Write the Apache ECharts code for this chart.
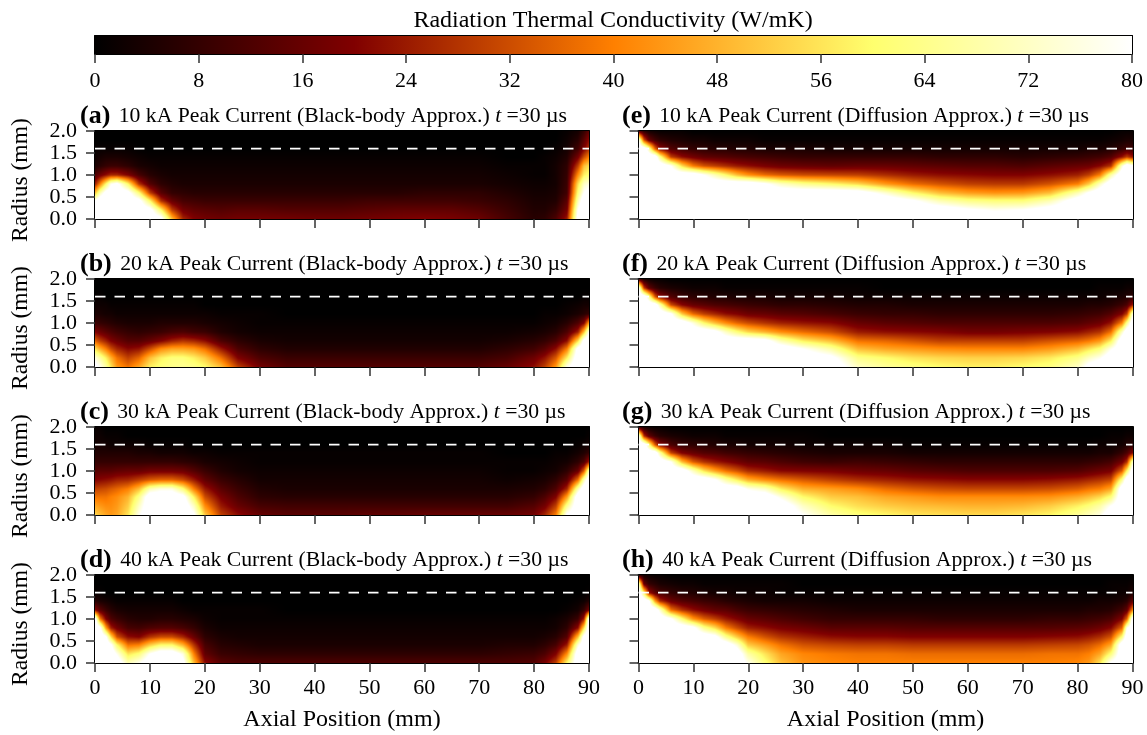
<!DOCTYPE html>
<html><head><meta charset="utf-8">
<style>html,body{margin:0;padding:0;background:#fff}#c{width:1147px;height:735px}</style>
<script src="https://cdn.jsdelivr.net/npm/echarts@6/dist/echarts.min.js"></script>
</head><body><div id="c"></div>
<script>
// Radiation thermal conductivity (W/mK), rows from r=2.0 (top) to r=0.0 (bottom)
const axialPositions = [0,1,2,3,4,6,8,10, 12,14,16,18,20,23,26,30, 35,40,45,50,55,60,65,70, 75,80,82,84,86,88,89,90];
const radiusStops = [2.0,1.8,1.6,1.4,1.2,1.0,0.8,0.6,0.4,0.2,0.0];
const panelA = [
[0,0,0,0,0,0,0,0, 0,0,0,0,0,0,0,0, 0,0,0,0,0,0,0,0, 0,0,0,0,1,3,8,15],
[0,0,0,0,0,0,0,0, 0,0,0,0,0,0,0,0, 0,0,0,0,0,0,0,0, 0,0,0,0,2,6,14,22],
[1,1,1,1,1,1,0,0, 0,0,0,0,0,0,0,0, 0,0,0,0,0,0,0,0, 0,0,0,1,3,10,20,28],
[2,3,4,4,4,3,2,1, 1,1,1,1,1,1,1,1, 1,1,1,1,1,1,1,1, 0,0,1,2,5,18,32,40],
[4,6,8,9,9,7,4,3, 2,2,2,2,2,2,2,2, 2,2,2,2,2,2,2,2, 1,1,1,3,7,30,50,55],
[12,17,22,26,26,20,11,6, 4,3,3,3,3,3,3,3, 3,3,3,3,3,3,3,3, 2,1,1,3,8,42,58,62],
[24,40,60,78,84,60,28,13, 7,5,4,4,4,4,4,4, 4,4,4,4,4,4,4,4, 3,2,2,3,9,55,72,76],
[50,70,85,90,90,85,62,30, 14,8,7,6,6,6,6,6, 6,6,6,6,6,7,7,7, 5,3,3,4,10,62,80,85],
[80,90,90,90,90,90,85,60, 28,16,11,10,9,9,9,9, 9,9,9,10,10,10,10,9, 7,4,4,5,14,70,90,90],
[90,90,90,90,90,90,90,85, 60,30,18,15,14,13,14,14, 13,13,13,14,15,15,15,13, 9,5,5,8,18,80,90,90],
[90,90,90,90,90,90,90,90, 85,50,26,20,18,17,18,18, 18,17,17,18,19,20,19,17, 11,6,7,12,24,85,90,90]];
const panelB = [
[0,0,0,0,0,0,0,0, 0,0,0,0,0,0,0,0, 0,0,0,0,0,0,0,0, 0,0,0,0,0,0,0,0],
[0,0,0,0,0,0,0,0, 0,0,0,0,0,0,0,0, 0,0,0,0,0,0,0,0, 0,0,0,0,0,0,0,0],
[1,1,0,0,0,0,0,0, 0,0,0,0,0,0,0,0, 0,0,0,0,0,0,0,0, 0,0,0,0,0,0,1,1],
[2,2,2,1,1,1,1,1, 1,1,1,1,0,0,0,0, 0,0,0,0,0,0,0,0, 0,0,0,0,1,2,3,3],
[4,4,3,3,2,2,2,2, 2,2,2,2,2,1,1,1, 0,0,0,0,0,0,0,0, 0,0,1,1,2,4,6,8],
[9,8,7,6,5,4,4,4, 5,5,5,5,4,3,2,1, 1,1,1,1,1,1,1,1, 1,1,2,3,6,12,20,45],
[20,17,14,12,10,8,7,8, 9,11,12,10,9,5,3,2, 2,2,2,2,2,2,2,2, 2,3,4,6,12,25,50,80],
[36,30,25,20,17,13,13,16, 20,25,28,26,22,12,7,4, 3,3,3,3,3,3,3,3, 4,6,8,12,22,55,85,90],
[56,48,40,32,26,21,23,32, 42,46,46,44,38,24,12,7, 5,5,5,5,5,5,5,5, 7,10,14,22,40,85,90,90],
[76,68,58,48,38,30,36,50, 58,62,62,58,52,38,20,12, 9,9,9,9,9,9,9,9, 11,17,23,34,58,90,90,90],
[85,78,68,56,44,38,46,58, 62,64,65,64,60,50,30,18, 13,13,13,13,13,13,13,13, 16,22,30,44,78,90,90,90]];
const panelC = [
[1,1,0,0,0,0,0,0, 0,0,0,0,0,0,0,0, 0,0,0,0,0,0,0,0, 0,0,0,0,0,0,0,0],
[2,2,1,1,1,0,0,0, 0,0,0,0,0,0,0,0, 0,0,0,0,0,0,0,0, 0,0,0,0,0,0,0,1],
[3,3,3,2,2,2,2,1, 1,1,1,0,0,0,0,0, 0,0,0,0,0,0,0,0, 0,0,0,0,0,1,2,3],
[5,5,5,5,5,5,4,4, 3,3,3,2,2,1,1,1, 1,1,1,1,1,1,1,1, 0,0,0,1,1,3,5,8],
[8,8,8,8,8,8,8,8, 8,8,7,6,4,3,2,1, 1,1,1,1,1,1,1,1, 1,1,1,2,3,7,12,25],
[13,14,14,14,15,16,16,18, 18,18,17,13,9,5,3,2, 2,2,2,2,2,2,2,2, 1,1,2,3,7,16,35,72],
[20,21,22,23,25,26,30,34, 36,36,32,24,15,9,6,3, 3,3,3,3,3,3,3,3, 2,3,4,7,14,38,70,90],
[30,31,32,34,36,40,50,70, 76,76,62,40,24,14,9,5, 4,4,4,4,4,4,4,4, 4,5,7,12,26,70,90,90],
[38,38,38,40,42,48,64,90, 90,90,85,58,32,19,12,7, 6,6,6,6,6,6,6,6, 6,8,12,20,45,90,90,90],
[46,44,42,42,44,52,72,90, 90,90,90,72,42,24,16,11, 10,10,10,10,10,10,10,10, 10,13,18,30,65,90,90,90],
[54,50,46,44,46,56,78,90, 90,90,90,82,52,30,22,16, 14,14,14,15,15,16,16,16, 16,18,26,40,82,90,90,90]];
const panelD = [
[0,0,0,0,0,0,0,0, 0,0,0,0,0,0,0,0, 0,0,0,0,0,0,0,0, 0,0,0,0,0,0,0,0],
[0,0,0,0,0,0,0,0, 0,0,0,0,0,0,0,0, 0,0,0,0,0,0,0,0, 0,0,0,0,0,0,0,0],
[1,1,0,0,0,0,0,0, 0,0,0,0,0,0,0,0, 0,0,0,0,0,0,0,0, 0,0,0,0,0,0,0,1],
[6,4,3,2,1,1,1,1, 1,1,0,0,0,0,0,0, 0,0,0,0,0,0,0,0, 0,0,0,0,0,1,2,5],
[22,14,9,6,4,3,3,3, 3,3,2,1,1,1,1,1, 0,0,0,0,0,0,0,0, 0,0,0,0,1,3,8,18],
[90,40,20,12,9,6,5,5, 6,6,5,4,2,1,1,1, 1,1,1,1,1,1,1,1, 1,1,1,2,4,9,25,85],
[90,85,45,25,18,11,10,12, 13,13,11,8,4,2,2,2, 2,2,2,2,2,2,2,2, 2,2,2,3,7,22,55,90],
[90,90,82,55,33,22,20,28, 32,32,26,16,7,4,3,3, 3,3,3,3,3,3,3,3, 3,3,4,6,13,50,85,90],
[90,90,90,82,60,38,40,52, 60,60,48,28,11,6,5,4, 4,4,4,4,4,4,4,4, 5,5,7,11,24,75,90,90],
[90,90,90,90,78,56,62,80, 90,90,76,40,15,9,8,7, 7,7,7,7,7,7,7,7, 8,9,12,20,42,90,90,90],
[90,90,90,90,90,70,78,90, 90,90,85,50,22,14,12,12, 12,12,12,12,12,12,12,12, 12,13,19,30,60,90,90,90]];
const panelE = [
[12,6,3,2,1,1,1,0, 0,0,0,0,0,0,0,0, 0,0,0,0,0,0,0,0, 0,0,0,0,0,1,1,1],
[78,33,16,10,7,5,4,3, 3,2,2,2,2,1,1,1, 1,1,1,1,1,1,1,1, 1,1,1,1,2,3,4,4],
[90,90,70,37,22,13,10,8, 7,6,6,5,5,4,4,4, 3,3,3,3,3,3,3,3, 3,3,4,4,5,8,10,9],
[90,90,90,90,65,30,22,18, 15,14,13,12,11,10,9,8, 8,8,8,8,7,7,7,6, 7,8,9,10,13,23,30,23],
[90,90,90,90,90,80,55,40, 33,30,27,24,22,19,17,16, 15,16,16,15,14,13,13,12, 14,16,17,21,28,74,90,82],
[90,90,90,90,90,90,90,90, 80,70,60,50,43,37,34,32, 31,30,27,24,22,21,20,20, 22,25,30,40,68,90,90,90],
[90,90,90,90,90,90,90,90, 90,90,90,90,90,82,72,65, 60,54,44,37,33,30,29,29, 33,40,52,72,90,90,90,90],
[90,90,90,90,90,90,90,90, 90,90,90,90,90,90,90,90, 90,88,74,60,50,45,43,44, 50,70,82,90,90,90,90,90],
[90,90,90,90,90,90,90,90, 90,90,90,90,90,90,90,90, 90,90,90,82,70,64,62,62, 70,88,90,90,90,90,90,90],
[90,90,90,90,90,90,90,90, 90,90,90,90,90,90,90,90, 90,90,90,90,88,82,78,80, 86,90,90,90,90,90,90,90],
[90,90,90,90,90,90,90,90, 90,90,90,90,90,90,90,90, 90,90,90,90,90,90,90,90, 90,90,90,90,90,90,90,90]];
const panelF = [
[10,4,2,1,1,0,0,0, 0,0,0,0,0,0,0,0, 0,0,0,0,0,0,0,0, 0,0,0,0,0,0,0,0],
[80,30,15,9,6,4,3,2, 2,2,1,1,1,1,1,1, 1,1,0,0,0,0,0,0, 0,0,0,1,1,1,2,2],
[90,90,68,35,22,13,9,7, 6,5,5,4,4,4,3,3, 3,2,2,2,2,2,2,2, 2,2,2,2,3,4,5,7],
[90,90,90,90,70,32,21,16, 14,12,11,10,9,8,7,7, 6,5,5,4,4,4,4,4, 4,4,5,5,6,9,12,25],
[90,90,90,90,90,82,52,37, 30,26,22,20,17,16,14,13, 11,9,8,8,7,7,7,7, 7,8,9,10,13,20,30,78],
[90,90,90,90,90,90,90,76, 60,50,42,36,32,28,25,23, 21,16,14,13,12,12,12,12, 12,13,15,17,23,40,65,90],
[90,90,90,90,90,90,90,90, 90,85,72,62,54,48,42,37, 32,24,22,21,20,18,18,19, 20,22,25,28,38,72,90,90],
[90,90,90,90,90,90,90,90, 90,90,90,90,90,86,70,58, 50,38,36,33,30,30,30,30, 33,36,39,44,58,90,90,90],
[90,90,90,90,90,90,90,90, 90,90,90,90,90,90,90,80, 68,50,46,44,42,41,41,41, 44,50,56,62,78,90,90,90],
[90,90,90,90,90,90,90,90, 90,90,90,90,90,90,90,90, 84,64,60,56,54,53,53,54, 57,64,72,78,90,90,90,90],
[90,90,90,90,90,90,90,90, 90,90,90,90,90,90,90,90, 90,72,66,63,60,58,58,60, 63,72,85,90,90,90,90,90]];
const panelG = [
[8,4,2,1,1,0,0,0, 0,0,0,0,0,0,0,0, 0,0,0,0,0,0,0,0, 0,0,0,0,0,0,0,0],
[78,28,15,9,6,4,3,2, 2,2,1,1,1,1,1,1, 0,0,0,0,0,0,0,0, 0,0,0,0,1,1,2,2],
[90,90,65,35,21,12,8,7, 6,5,4,4,3,3,3,2, 2,2,2,1,1,1,1,1, 1,1,1,2,2,3,5,6],
[90,90,90,90,68,31,20,16, 13,12,10,9,8,7,6,5, 4,4,4,3,3,3,3,3, 3,3,3,4,4,8,12,22],
[90,90,90,90,90,80,50,35, 28,24,21,18,15,14,12,10, 9,10,9,8,7,7,7,7, 7,7,8,9,11,18,28,75],
[90,90,90,90,90,90,90,72, 56,46,38,33,27,24,21,20, 19,17,16,14,13,12,12,12, 12,13,15,17,19,35,60,90],
[90,90,90,90,90,90,90,90, 90,82,68,58,48,42,38,34, 30,27,25,23,22,21,21,21, 22,24,26,28,31,65,90,90],
[90,90,90,90,90,90,90,90, 90,90,90,90,78,72,58,48, 45,42,37,34,32,31,31,31, 32,35,38,40,46,90,90,90],
[90,90,90,90,90,90,90,90, 90,90,90,90,90,90,76,60, 52,50,46,44,42,42,42,42, 43,47,50,54,62,90,90,90],
[90,90,90,90,90,90,90,90, 90,90,90,90,90,90,90,72, 60,55,52,50,49,48,48,49, 52,58,62,68,80,90,90,90],
[90,90,90,90,90,90,90,90, 90,90,90,90,90,90,90,80, 68,62,59,56,55,54,54,56, 59,66,71,76,90,90,90,90]];
const panelH = [
[6,3,2,1,1,0,0,0, 0,0,0,0,0,0,0,0, 0,0,0,0,0,0,0,0, 0,0,0,0,0,0,0,0],
[70,16,8,6,4,3,2,2, 1,1,1,1,1,1,1,0, 0,0,0,0,0,0,0,0, 0,0,0,0,1,1,1,2],
[90,60,24,15,11,8,6,5, 4,3,3,2,2,2,1,1, 1,1,1,1,1,1,1,1, 1,1,1,1,1,2,2,5],
[90,90,82,45,27,17,13,11, 9,8,6,5,4,3,3,3, 2,2,2,2,2,2,2,2, 2,2,2,3,3,4,6,15],
[90,90,90,90,74,38,28,22, 18,15,14,11,9,8,7,6, 5,4,4,4,4,4,4,4, 4,4,5,5,6,10,15,42],
[90,90,90,90,90,82,62,44, 35,30,24,20,16,14,12,10, 8,8,8,8,7,7,7,7, 8,8,9,10,12,20,36,90],
[90,90,90,90,90,90,90,85, 65,55,40,32,25,22,19,17, 14,14,14,13,13,13,13,13, 13,14,15,17,21,36,78,90],
[90,90,90,90,90,90,90,90, 90,85,65,52,40,33,28,25, 22,21,21,20,20,20,20,20, 21,22,24,27,33,62,90,90],
[90,90,90,90,90,90,90,90, 90,90,90,75,52,45,38,33, 31,30,30,29,29,29,29,29, 30,31,33,37,46,90,90,90],
[90,90,90,90,90,90,90,90, 90,90,90,90,68,56,46,41, 39,38,38,37,37,37,37,37, 38,38,40,46,62,90,90,90],
[90,90,90,90,90,90,90,90, 90,90,90,90,78,62,50,43, 41,40,40,40,40,40,40,40, 40,41,44,56,82,90,90,90]];
const panelTags = ['(a)','(b)','(c)','(d)','(e)','(f)','(g)','(h)'];
const peakCurrents = ['10','20','30','40','10','20','30','40'];
const approximations = ['Black-body','Black-body','Black-body','Black-body','Diffusion','Diffusion','Diffusion','Diffusion'];
const colormapValues = [0,20,40,60,80];
const colormapColors = [[0,0,0],[128,0,0],[255,128,0],[255,255,110],[255,255,255]];
const guideRadius = 1.6;

const panels = [panelA,panelB,panelC,panelD,panelE,panelF,panelG,panelH];
const FONT = '"Liberation Serif","Times New Roman",serif';
const LABEL = 22;

function rgbOf(v){
  v = Math.max(0, Math.min(80, v));
  for (let i = 1; i < colormapValues.length; i++) {
    if (v <= colormapValues[i]) {
      const t = (v - colormapValues[i-1]) / (colormapValues[i] - colormapValues[i-1]);
      const a = colormapColors[i-1], b = colormapColors[i];
      return a.map((c,k)=>Math.round(c+(b[k]-c)*t));
    }
  }
  return [255,255,255];
}
const colorOf = v => 'rgb(' + rgbOf(v).join(',') + ')';
// one cell of the field: its four corner values are shaded across its own rectangle
function renderCell(params, api){
  const p0 = api.coord([api.value(0), api.value(3)]);
  const p1 = api.coord([api.value(1), api.value(2)]);
  const x = Math.round(p0[0]), y = Math.round(p0[1]);
  const w = Math.max(1, Math.round(p1[0])-x), h = Math.max(1, Math.round(p1[1])-y);
  const tl = api.value(4), tr = api.value(5), bl = api.value(6), br = api.value(7);
  const cv = document.createElement('canvas'); cv.width = w; cv.height = h;
  const ctx = cv.getContext('2d'), im = ctx.createImageData(w, h);
  for (let j = 0; j < h; j++) for (let i = 0; i < w; i++) {
    const u = (i+0.5)/w, t = (j+0.5)/h;
    const c = rgbOf((tl*(1-u)+tr*u)*(1-t) + (bl*(1-u)+br*u)*t);
    const o = (j*w+i)*4;
    im.data[o]=c[0]; im.data[o+1]=c[1]; im.data[o+2]=c[2]; im.data[o+3]=255;
  }
  ctx.putImageData(im,0,0);
  return {type:'image', style:{image:cv, x:x, y:y, width:w, height:h}};
}
function renderBar(params, api){
  const p0 = api.coord([api.value(0), 1]);
  const p1 = api.coord([api.value(1), 0]);
  const x = Math.round(p0[0]), y = Math.round(p0[1]);
  return {type:'rect', shape:{x:x, y:y, width:Math.round(p1[0])-x, height:Math.round(p1[1])-y},
    style:{fill:new echarts.graphic.LinearGradient(0,0,1,0,[
      {offset:0,color:colorOf(api.value(0))},{offset:1,color:colorOf(api.value(1))}])}};
}
function cellsOf(rows){
  const out = [], X = axialPositions;
  for (let c = 0; c < X.length-1; c++) {
    for (let k = 0; k < radiusStops.length-1; k++) {
      out.push([X[c], X[c+1], radiusStops[k+1], radiusStops[k], rows[k][c], rows[k][c+1], rows[k+1][c], rows[k+1][c+1]]);
    }
  }
  return out;
}
const lineAxis = {axisLine:{show:true,onZero:false,lineStyle:{color:'#000',width:2}}, splitLine:{show:false}};
const tickStyle = {show:true,length:9,lineStyle:{color:'#333',width:1.5}};
const labelStyle = {color:'#000',fontFamily:FONT,fontSize:LABEL};
const grid=[], xAxis=[], yAxis=[], series=[], title=[];

for (let i = 0; i < 8; i++) {
  const col = i < 4 ? 0 : 1, row = i % 4;
  const left = col ? 638.5 : 95, top = 131 + row*148;
  grid.push({left:left, top:top, width:494, height:88});
  const gi = grid.length-1;
  const bottomRow = row === 3;
  xAxis.push(Object.assign({gridIndex:gi,type:'value',min:0,max:90,interval:10,position:'bottom',
    axisTick:tickStyle,
    axisLabel:Object.assign({show:bottomRow,margin:14,showMinLabel:true,showMaxLabel:true},labelStyle),
    name:bottomRow?'Axial Position (mm)':'',nameLocation:'middle',nameGap:45,
    nameTextStyle:{color:'#000',fontFamily:FONT,fontSize:24}},lineAxis));
  const xi = xAxis.length-1;
  xAxis.push(Object.assign({gridIndex:gi,type:'value',min:0,max:90,position:'top',axisTick:{show:false},axisLabel:{show:false}},lineAxis));
  yAxis.push(Object.assign({gridIndex:gi,type:'value',min:0,max:2,interval:0.5,position:'left',
    axisTick:tickStyle,
    axisLabel:Object.assign({show:col===0,margin:18,formatter:v=>v.toFixed(1)},labelStyle),
    name:col===0?'Radius (mm)':'',nameLocation:'middle',nameRotate:90,nameGap:62,
    nameTextStyle:{color:'#000',fontFamily:FONT,fontSize:23.6,padding:[0,10,0,0]}},lineAxis));
  const yi = yAxis.length-1;
  yAxis.push(Object.assign({gridIndex:gi,type:'value',min:0,max:2,position:'right',axisTick:{show:false},axisLabel:{show:false}},lineAxis));
  series.push({type:'custom',coordinateSystem:'cartesian2d',xAxisIndex:xi,yAxisIndex:yi,
    renderItem:renderCell,data:cellsOf(panels[i]),clip:true,silent:true,animation:false,
    encode:{x:[0,1],y:[2,3]}});
  series.push({type:'line',xAxisIndex:xi,yAxisIndex:yi,data:[[0,guideRadius],[90,guideRadius]],
    symbol:'none',silent:true,animation:false,z:5,
    lineStyle:{color:'#fff',width:1.6,type:[10.5,9]}});
  title.push({left:col?622:80, top:top-28, padding:0,
    text:'{b|'+panelTags[i]+'} '+peakCurrents[i]+' kA Peak Current ('+approximations[i]+' Approx.) {i|t} =30 µs',
    textStyle:{color:'#000',fontFamily:FONT,fontSize:21.7,fontWeight:'normal',
      rich:{b:{fontFamily:FONT,fontSize:26,fontWeight:'bold',color:'#000',padding:[0,3,0,0]},
            i:{fontFamily:FONT,fontSize:21.7,fontStyle:'italic',color:'#000'}}}});
}
// colour bar
grid.push({left:95,top:36,width:1037,height:18});
const cg = grid.length-1;
xAxis.push(Object.assign({gridIndex:cg,type:'value',min:0,max:80,interval:8,position:'bottom',
  axisTick:Object.assign({},tickStyle),axisLabel:Object.assign({margin:16,showMinLabel:true,showMaxLabel:true},labelStyle)},lineAxis));
const cx = xAxis.length-1;
xAxis.push(Object.assign({gridIndex:cg,type:'value',min:0,max:80,position:'top',axisTick:{show:false},axisLabel:{show:false}},lineAxis));
yAxis.push(Object.assign({gridIndex:cg,type:'value',min:0,max:1,position:'left',axisTick:{show:false},axisLabel:{show:false}},lineAxis));
const cy = yAxis.length-1;
yAxis.push(Object.assign({gridIndex:cg,type:'value',min:0,max:1,position:'right',axisTick:{show:false},axisLabel:{show:false}},lineAxis));
series.push({type:'custom',coordinateSystem:'cartesian2d',xAxisIndex:cx,yAxisIndex:cy,
  renderItem:renderBar,silent:true,animation:false,clip:true,encode:{x:[0,1]},
  data:colormapValues.slice(0,-1).map((v,i)=>[v,colormapValues[i+1]])});
title.push({left:613,top:9,textAlign:'center',padding:0,text:'Radiation Thermal Conductivity (W/mK)',
  textStyle:{color:'#000',fontFamily:FONT,fontSize:24,fontWeight:'normal'}});

const chart = echarts.init(document.getElementById('c'),null,{renderer:'canvas'});
chart.setOption({backgroundColor:'#fff',animation:false,title,grid,xAxis,yAxis,series});
</script></body></html>
